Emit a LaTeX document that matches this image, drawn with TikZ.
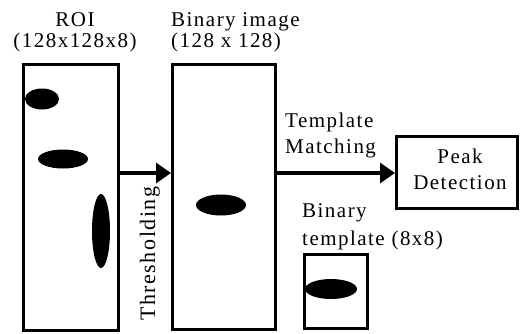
\documentclass[tikz,border=0pt]{standalone}
\usepackage{fontspec}
\setmainfont{Liberation Serif}[LetterSpace=7]
\usetikzlibrary{arrows.meta}
\begin{document}
\begin{tikzpicture}[x=1bp,y=-1bp,
  frame/.style={draw=black,line width=2.7bp,fill=white,inner sep=0pt},
  blob/.style={fill=black},
  arr/.style={line width=3.3bp,-{Triangle[length=15bp,width=20bp]}},
  lbl/.style={inner sep=0pt,font=\fontsize{21bp}{23bp}\selectfont}]
\useasboundingbox (0,0) rectangle (521,333);

% boxes
\node[frame,minimum width=95.3bp,minimum height=266.3bp] (roi) at (71,197.5) {};
\node[frame,minimum width=103.3bp,minimum height=265.3bp] (bin) at (224,197) {};
\node[frame,minimum width=121.3bp,minimum height=72.3bp] (peak) at (457,172.5) {};
\node[frame,minimum width=63.3bp,minimum height=74.3bp] (tpl) at (336,291.5) {};

% blobs
\fill[blob] (42,99) ellipse [x radius=17,y radius=10.5];
\fill[blob] (63,159) ellipse [x radius=25,y radius=9.5];
\fill[blob] (101,231) ellipse [x radius=9,y radius=37];
\fill[blob] (221,205) ellipse [x radius=25,y radius=10.5];
\fill[blob] (331,289) ellipse [x radius=26,y radius=10];

% labels
\node[lbl,anchor=base] (roiA) at (75,26) {ROI};
\node[lbl,anchor=base] (roiB) at (75,47) {(128x128x8)};
\node[lbl,anchor=base west] (binA) at (171,26) {Binary image};
\node[lbl,anchor=base west] (binB) at (171,47) {(128 x 128)};
\node[lbl,anchor=base west] (tmA) at (285,127) {Template};
\node[lbl,anchor=base west] (tmB) at (285,153) {Matching};
\node[lbl,anchor=base] (pkA) at (460,163) {Peak};
\node[lbl,anchor=base] (pkB) at (460,189) {Detection};
\node[lbl,anchor=base west] (btA) at (302,217) {Binary};
\node[lbl,anchor=base west] (btB) at (302,245) {template (8x8)};
\node[lbl,anchor=base west,rotate=90,font=\fontsize{22bp}{24bp}\selectfont] (thr) at (155,321) {Thresholding};

% connectors
\coordinate (lvl) at (0,173);
\draw[arr] (roi.east |- lvl) -- (bin.west |- lvl);
\draw[arr] (bin.east |- lvl) -- (peak.west |- lvl);
\end{tikzpicture}
\end{document}
